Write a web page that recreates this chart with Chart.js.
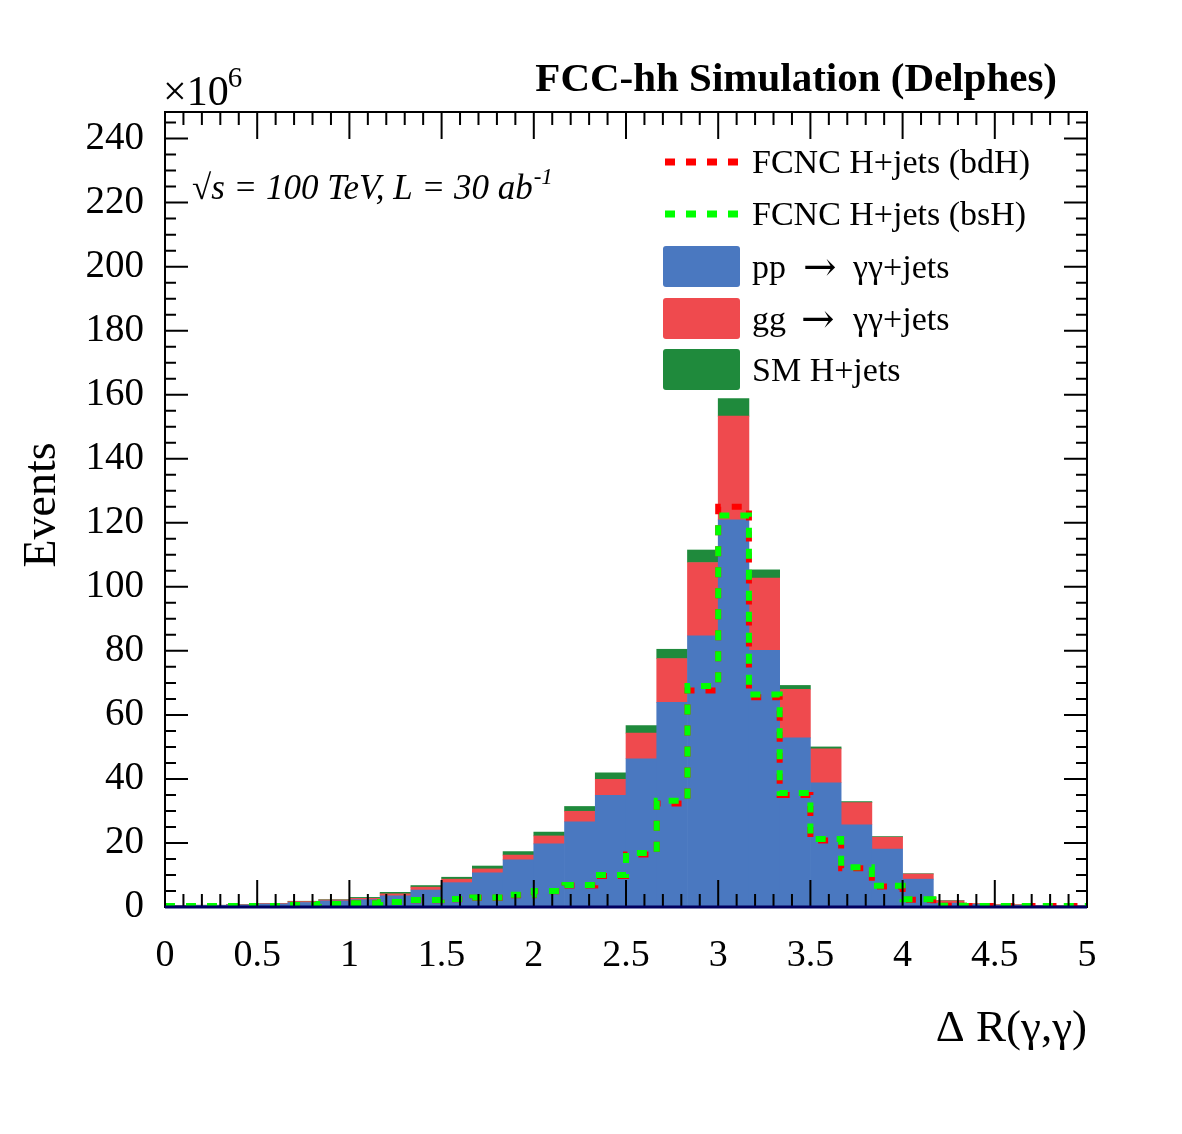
<!DOCTYPE html>
<html>
<head>
<meta charset="utf-8">
<script src="https://cdn.jsdelivr.net/npm/chart.js@4.4.1/dist/chart.umd.min.js"></script>
<style>
  body { margin: 0; background: #fff; }
  canvas { display: block; }
</style>
</head>
<body>
<canvas id="drChart" width="1182" height="1134"></canvas>
<script>
// binning of the Delta R histogram
const nBins = 30;
const xMin = 0;
const xMax = 5;

// stacked backgrounds, events x10^6 per bin
const ppGamGam = [0.4, 0.5, 0.6, 0.9, 1.4, 1.9, 2.3, 3.5, 5.3, 7.6, 10.7, 14.7, 19.7, 26.6, 34.9, 46.3, 63.9, 84.7, 120.9, 80.2, 52.8, 38.8, 25.7, 18.1, 8.7, 1.2, 0.8, 0.5, 0.4, 0.3];
const ggGamGam = [0.05, 0.05, 0.1, 0.2, 0.3, 0.3, 0.4, 0.6, 0.9, 1.1, 1.2, 1.5, 2.5, 3.3, 5.0, 8.0, 13.7, 22.9, 32.4, 22.5, 15.2, 10.6, 6.9, 3.7, 1.6, 0.7, 0.3, 0.2, 0.1, 0.1];
const smHiggs = [0, 0, 0.05, 0.05, 0.1, 0.1, 0.3, 0.5, 0.5, 0.6, 0.9, 1.1, 1.2, 1.5, 2.0, 2.4, 2.9, 3.9, 5.5, 2.6, 1.2, 0.6, 0.3, 0.2, 0.1, 0.1, 0, 0, 0, 0];

// FCNC signals (dashed outlines)
const fcncBdH = [0.3, 0.3, 0.3, 0.3, 0.6, 0.9, 1.2, 1.6, 2.1, 2.4, 2.9, 3.7, 4.9, 6.7, 9.7, 16.4, 32.3, 67.6, 125.0, 65.5, 35.0, 20.8, 12.1, 6.4, 2.3, 0.4, 0.3, 0.3, 0.3, 0.3];
const fcncBsH = [0.3, 0.3, 0.3, 0.3, 0.6, 0.9, 1.2, 1.6, 2.2, 2.5, 3.0, 3.8, 5.0, 6.9, 10.0, 16.9, 33.2, 69.0, 122.3, 66.4, 35.6, 21.2, 12.4, 6.6, 2.4, 0.4, 0.3, 0.3, 0.3, 0.3];

const yMax = 248.3;

const binW = (xMax - xMin) / nBins;
const centers = [];
const edges = [];
for (let i = 0; i < nBins; i++) {
    centers.push(xMin + (i + 0.5) * binW);
    edges.push(xMin + i * binW);
}

const COL = {
    pp: '#4a78c0',
    gg: '#ef4a4e',
    sm: '#1f8a3c',
    bd: '#ff0000',
    bs: '#00ff00'
};
const SERIF = '"Liberation Serif", "DejaVu Serif", serif';

function barData(vals) {
    return vals.map((v, i) => ({ x: centers[i], y: v }));
}
// outline points at the lower bin edges, closing at xMax
function stepData(vals) {
    const pts = vals.map((v, i) => ({ x: edges[i], y: v }));
    pts.push({ x: xMax, y: vals[vals.length - 1] });
    return pts;
}

function lineDs(label, vals, color) {
    return {
        type: 'line',
        label: label,
        data: stepData(vals),
        borderColor: color,
        borderWidth: 6,
        borderDash: [10, 11],
        borderCapStyle: 'butt',
        stepped: 'before',
        pointRadius: 0,
        fill: false
    };
}
function barDs(label, vals, color) {
    return {
        type: 'bar',
        label: label,
        data: barData(vals),
        backgroundColor: color,
        borderWidth: 0,
        stack: 'bkg',
        barPercentage: 1,
        categoryPercentage: 1
    };
}

// frame, inward ticks, labels and legend, ROOT style
const rootDecor = {
    id: 'rootDecor',
    beforeDraw(chart) {
        const ctx = chart.ctx;
        ctx.save();
        ctx.fillStyle = '#fff';
        ctx.fillRect(0, 0, chart.width, chart.height);
        ctx.restore();
    },
    afterDraw(chart) {
        const { ctx, chartArea: a, scales: { x, y } } = chart;
        ctx.save();
        ctx.strokeStyle = '#000';
        ctx.lineWidth = 2;
        ctx.beginPath();
        for (let i = 0; i <= 50; i++) {
            const px = x.getPixelForValue(i / 10);
            const len = i % 5 === 0 ? 27 : 13;
            ctx.moveTo(px, a.bottom); ctx.lineTo(px, a.bottom - len);
            ctx.moveTo(px, a.top); ctx.lineTo(px, a.top + len);
        }
        for (let v = 0; v <= yMax; v += 5) {
            const py = y.getPixelForValue(v);
            const len = v % 20 === 0 ? 23 : 11;
            ctx.moveTo(a.left, py); ctx.lineTo(a.left + len, py);
            ctx.moveTo(a.right, py); ctx.lineTo(a.right - len, py);
        }
        ctx.stroke();
        ctx.strokeRect(a.left, a.top, a.right - a.left, a.bottom - a.top);
        ctx.strokeStyle = '#000060';
        ctx.lineWidth = 3;
        ctx.beginPath();
        ctx.moveTo(a.left, a.bottom); ctx.lineTo(a.right, a.bottom);
        ctx.stroke();

        ctx.fillStyle = '#000';
        ctx.textBaseline = 'alphabetic';

        // title
        ctx.textAlign = 'right';
        ctx.font = 'bold 41px ' + SERIF;
        ctx.fillText('FCC-hh Simulation (Delphes)', 1057, 91);

        // exponent
        ctx.textAlign = 'left';
        ctx.font = '42px ' + SERIF;
        ctx.fillText('\u00d710', 163, 105);
        const ew = ctx.measureText('\u00d710').width;
        ctx.font = '29px ' + SERIF;
        ctx.fillText('6', 163 + ew - 1, 87);

        // energy / lumi
        ctx.font = 'italic 35px ' + SERIF;
        const lumi = '\u221as = 100 TeV, L = 30 ab';
        ctx.fillText(lumi, 192, 199);
        const lw = ctx.measureText(lumi).width;
        ctx.font = 'italic 23px ' + SERIF;
        ctx.fillText('-1', 192 + lw + 1, 184);

        // axis titles
        ctx.font = '45px ' + SERIF;
        ctx.textAlign = 'right';
        ctx.fillText('\u0394 R(\u03b3,\u03b3)', 1087, 1041);
        ctx.save();
        ctx.translate(55, 505);
        ctx.rotate(-Math.PI / 2);
        ctx.textAlign = 'center';
        ctx.font = '46px ' + SERIF;
        ctx.fillText('Events', 0, 0);
        ctx.restore();

        // legend
        const lx0 = 663, lx1 = 740, tx0 = 752;
        ctx.textAlign = 'left';
        const legFont = '34px ' + SERIF;
        const arrowFont = '40px "DejaVu Serif", serif';
        ctx.font = legFont;
        const dashRow = (yc, color, text) => {
            ctx.save();
            ctx.strokeStyle = color;
            ctx.lineWidth = 7;
            ctx.setLineDash([10, 11]);
            ctx.beginPath();
            ctx.moveTo(lx0 + 2, yc); ctx.lineTo(lx1, yc);
            ctx.stroke();
            ctx.restore();
            ctx.fillText(text, tx0, yc + 11);
        };
        const boxRow = (yc, color, parts) => {
            ctx.fillStyle = color;
            ctx.beginPath();
            ctx.roundRect(lx0, yc - 21, lx1 - lx0, 41, 3);
            ctx.fill();
            ctx.fillStyle = '#000';
            parts.forEach(p => {
                ctx.font = p[2] || legFont;
                ctx.fillText(p[0], p[1], yc + (p[3] || 11));
            });
            ctx.font = legFont;
        };
        dashRow(162, COL.bd, 'FCNC H+jets (bdH)');
        dashRow(214, COL.bs, 'FCNC H+jets (bsH)');
        boxRow(267, COL.pp, [['pp', 752], ['\u2192', 803, arrowFont, 13], ['\u03b3\u03b3+jets', 853]]);
        boxRow(319, COL.gg, [['gg', 752], ['\u2192', 801, arrowFont, 13], ['\u03b3\u03b3+jets', 853]]);
        boxRow(370, COL.sm, [['SM H+jets', 752]]);
        ctx.restore();
    }
};

new Chart(document.getElementById('drChart').getContext('2d'), {
    type: 'bar',
    data: {
        datasets: [
            lineDs('FCNC H+jets (bsH)', fcncBsH, COL.bs),
            lineDs('FCNC H+jets (bdH)', fcncBdH, COL.bd),
            barDs('pp \u2192 \u03b3\u03b3+jets', ppGamGam, COL.pp),
            barDs('gg \u2192 \u03b3\u03b3+jets', ggGamGam, COL.gg),
            barDs('SM H+jets', smHiggs, COL.sm)
        ]
    },
    options: {
        responsive: false,
        animation: false,
        layout: { padding: { top: 112, right: 95, left: 0, bottom: 0 } },
        plugins: {
            legend: { display: false },
            tooltip: { enabled: false }
        },
        scales: {
            x: {
                type: 'linear',
                min: xMin,
                max: xMax,
                offset: false,
                grid: { display: false, drawTicks: false, offset: false },
                border: { display: false },
                ticks: {
                    stepSize: 0.5,
                    padding: 26,
                    color: '#000',
                    font: { family: SERIF, size: 38 },
                    maxRotation: 0,
                    autoSkip: false,
                    callback: v => String(v)
                },
                afterFit: s => { s.height = 1134 - 907; }
            },
            y: {
                min: 0,
                max: yMax,
                grid: { display: false, drawTicks: false },
                border: { display: false },
                ticks: {
                    stepSize: 20,
                    includeBounds: false,
                    padding: 21,
                    color: '#000',
                    font: { family: SERIF, size: 39 },
                    callback: v => (v % 20 === 0 ? String(v) : '')
                },
                afterFit: s => { s.width = 165; }
            }
        }
    },
    plugins: [rootDecor]
});
</script>
</body>
</html>
